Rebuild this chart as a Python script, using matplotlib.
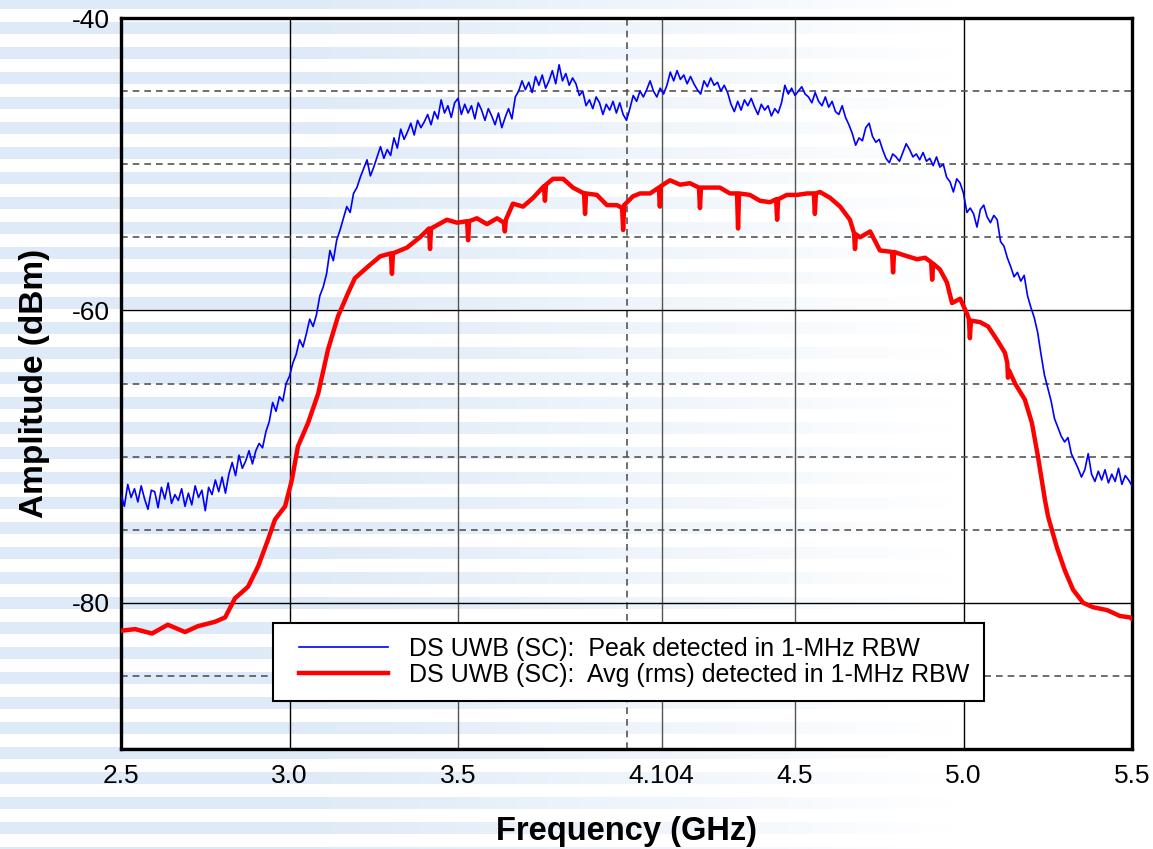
import numpy as np
import matplotlib
matplotlib.use("Agg")
import matplotlib.pyplot as plt
from matplotlib.legend_handler import HandlerLine2D

plt.rcParams['font.family'] = ['Liberation Sans', 'DejaVu Sans']
plt.rcParams['axes.unicode_minus'] = False

# peak detected trace, one reading every 10 MHz from 2.5 to 5.5 GHz
peak_db = [
    -72.6, -73.4, -71.9, -72.8, -72.2, -73.1, -72.0, -72.9, -73.6, -72.3,
    -72.4, -73.5, -72.1, -72.9, -71.8, -73.2, -72.6, -73.0, -72.2, -73.4,
    -72.5, -73.3, -72.0, -72.8, -72.3, -73.7, -72.1, -72.6, -71.6, -72.4,
    -71.4, -72.5, -71.2, -70.4, -71.3, -69.9, -70.8, -70.3, -69.6, -70.5,
    -69.6, -69.1, -69.4, -68.3, -67.6, -66.3, -66.9, -65.9, -66.2, -65.0,
    -64.5, -63.6, -63.0, -62.0, -62.5, -61.6, -60.6, -61.1, -60.3, -59.0,
    -58.4, -57.5, -55.9, -56.6, -55.2, -54.5, -53.7, -52.9, -53.3, -52.0,
    -51.6, -50.9, -50.3, -49.7, -50.8, -50.2, -49.5, -48.8, -49.6, -49.0,
    -49.4, -48.2, -48.9, -47.6, -48.3, -47.8, -47.2, -48.0, -47.0, -47.5,
    -47.1, -46.6, -47.3, -46.4, -46.9, -45.6, -46.5, -46.0, -46.8, -45.8,
    -45.5, -46.6, -45.9, -46.5, -46.0, -46.9, -45.8, -46.3, -47.0, -46.2,
    -46.7, -47.3, -46.5, -47.5, -46.8, -46.2, -46.9, -45.4, -45.0, -44.3,
    -44.9, -44.4, -45.1, -44.0, -44.6, -43.9, -44.8, -44.3, -43.6, -44.5,
    -43.2, -44.3, -43.8, -44.6, -44.1, -44.5, -45.3, -45.0, -46.0, -45.6,
    -46.2, -45.4, -45.8, -46.6, -45.9, -46.3, -45.7, -46.5, -45.8, -46.6,
    -47.0, -46.2, -45.3, -45.7, -45.0, -45.4, -44.9, -44.3, -45.0, -45.4,
    -44.8, -45.2, -44.6, -43.7, -44.3, -43.6, -44.2, -43.9, -44.5, -44.0,
    -44.5, -44.9, -45.2, -44.3, -44.7, -44.1, -44.6, -44.4, -45.0, -44.6,
    -45.1, -45.9, -46.4, -45.7, -46.3, -45.6, -46.0, -45.5, -46.1, -46.6,
    -45.9, -46.3, -46.0, -46.7, -46.2, -46.5, -45.8, -44.6, -45.2, -44.8,
    -45.3, -45.0, -44.7, -45.2, -45.4, -45.8, -45.1, -45.7, -46.0, -45.4,
    -46.1, -45.7, -46.4, -46.6, -46.0, -46.8, -47.3, -47.9, -48.7, -48.2,
    -48.4, -47.5, -47.2, -48.1, -48.5, -48.3, -49.0, -49.6, -49.9, -49.3,
    -49.5, -49.8, -49.2, -48.6, -49.0, -49.5, -49.3, -49.7, -49.2, -49.8,
    -49.6, -50.1, -49.5, -50.2, -50.0, -50.9, -51.2, -51.9, -51.0, -51.3,
    -52.0, -53.3, -53.0, -53.4, -54.3, -53.1, -52.8, -53.6, -54.0, -53.5,
    -53.8, -55.3, -55.6, -56.4, -57.0, -57.7, -57.4, -58.0, -57.6, -59.0,
    -59.8, -60.5, -61.5, -63.0, -64.4, -65.3, -66.2, -67.4, -68.0, -68.6,
    -69.0, -68.7, -69.8, -70.3, -70.8, -71.4, -70.9, -69.8, -71.2, -71.7,
    -71.0, -71.6, -70.9, -71.8, -71.2, -71.7, -70.8, -71.9, -71.3, -71.6,
    -72.0,
]
peak_freq = np.linspace(2.5, 5.5, len(peak_db))

# average (rms) trace, read at uneven points (the narrow dips included)
avg_freq = [
    2.503, 2.542, 2.592, 2.639, 2.690, 2.728, 2.779, 2.809, 2.838, 2.877,
    2.907, 2.936, 2.957, 2.987, 3.007, 3.025, 3.055, 3.085, 3.114, 3.144,
    3.174, 3.194, 3.233, 3.269, 3.301, 3.304, 3.307, 3.349, 3.387, 3.414,
    3.417, 3.420, 3.467, 3.497, 3.527, 3.530, 3.533, 3.556, 3.586, 3.616,
    3.636, 3.639, 3.642, 3.663, 3.693, 3.723, 3.755, 3.758, 3.761, 3.782,
    3.812, 3.841, 3.874, 3.877, 3.880, 3.912, 3.942, 3.972, 3.987, 3.990,
    3.993, 4.019, 4.040, 4.070, 4.096, 4.099, 4.102, 4.129, 4.159, 4.188,
    4.215, 4.218, 4.221, 4.248, 4.277, 4.307, 4.328, 4.331, 4.334, 4.366,
    4.396, 4.426, 4.444, 4.447, 4.450, 4.476, 4.506, 4.536, 4.556, 4.559,
    4.562, 4.574, 4.604, 4.634, 4.663, 4.675, 4.678, 4.681, 4.693, 4.723,
    4.752, 4.788, 4.791, 4.794, 4.820, 4.862, 4.886, 4.904, 4.907, 4.910,
    4.930, 4.951, 4.966, 4.990, 5.010, 5.016, 5.019, 5.022, 5.049, 5.073,
    5.099, 5.123, 5.130, 5.132, 5.135, 5.153, 5.182, 5.203, 5.221, 5.242,
    5.251, 5.277, 5.301, 5.325, 5.355, 5.384, 5.426, 5.464, 5.494, 5.500,
]
avg_db = [
    -81.9, -81.8, -82.1, -81.5, -82.0, -81.6, -81.3, -81.0, -79.7, -78.9,
    -77.5, -75.7, -74.3, -73.4, -71.6, -69.3, -67.7, -65.7, -62.7, -60.4,
    -58.8, -57.8, -57.0, -56.3, -56.1, -57.5, -56.1, -55.7, -55.0, -54.4,
    -55.8, -54.4, -53.8, -54.0, -53.9, -55.2, -53.9, -53.7, -54.1, -53.7,
    -54.0, -54.6, -53.8, -52.7, -52.9, -52.3, -51.5, -52.5, -51.4, -51.0,
    -51.0, -51.6, -52.0, -53.4, -52.0, -52.1, -52.8, -52.8, -53.0, -54.5,
    -52.8, -52.2, -52.0, -52.0, -51.6, -52.9, -51.5, -51.1, -51.4, -51.3,
    -51.6, -53.0, -51.6, -51.6, -51.6, -52.0, -52.0, -54.4, -52.0, -52.1,
    -52.5, -52.6, -52.4, -53.8, -52.4, -52.1, -52.1, -52.0, -52.0, -53.4,
    -52.0, -51.9, -52.3, -52.9, -53.8, -54.7, -55.8, -54.8, -55.0, -54.6,
    -55.9, -56.0, -57.4, -56.0, -56.2, -56.5, -56.4, -56.7, -57.9, -56.8,
    -57.2, -58.1, -59.5, -59.2, -60.2, -60.6, -61.9, -60.7, -60.8, -61.1,
    -62.0, -62.9, -63.6, -64.6, -64.1, -65.0, -66.1, -67.7, -70.0, -73.0,
    -74.1, -76.2, -77.8, -79.1, -80.0, -80.3, -80.5, -80.9, -81.0, -81.1,
]

x_ticks = [2.5, 3.0, 3.5, 4.104, 4.5, 5.0, 5.5]
x_labels = ['2.5', '3.0', '3.5', '4.104', '4.5', '5.0', '5.5']
y_ticks = [-40, -60, -80]
y_minor = [-45, -50, -55, -65, -70, -75, -85]

peak_label = 'DS UWB (SC):  Peak detected in 1-MHz RBW'
avg_label = 'DS UWB (SC):  Avg (rms) detected in 1-MHz RBW'

W, H = 1153, 849
fig = plt.figure(figsize=(W / 100, H / 100), dpi=100)

# striped light blue backdrop that fades out to the right
rows = np.arange(H)
band = ((rows + 3) % 25) < 12
fade = np.clip((950 - np.arange(W)) / 650.0, 0, 1)
bg = np.ones((H, W, 3))
shade = np.array([222, 234, 247]) / 255.0
mix = (band[:, None] * fade[None, :])[..., None]
bg = bg * (1 - mix) + shade[None, None, :] * mix

bg_ax = fig.add_axes([0, 0, 1, 1], zorder=-1)
bg_ax.imshow(bg, aspect='auto', interpolation='nearest')
bg_ax.axis('off')

ax = fig.add_axes([121 / W, 1 - 749 / H, 1011 / W, 731 / H], zorder=1)
ax.set_facecolor('none')

ax.plot(peak_freq, peak_db, color='#0000ff', lw=1.2, label=peak_label, zorder=3)
ax.plot(avg_freq, avg_db, color='#ff0000', lw=3.2, label=avg_label, zorder=4)

ax.set_xlim(2.5, 5.5)
ax.set_ylim(-90, -40)
ax.set_xticks(x_ticks)
ax.set_xticklabels(x_labels)
ax.set_xticks([4.0], minor=True)
ax.set_yticks(y_ticks)
ax.set_yticks(y_minor, minor=True)
ax.tick_params(which='both', length=0, labelsize=19)
ax.tick_params(axis='x', pad=11)
ax.tick_params(axis='y', pad=8)

ax.grid(which='major', color='#555555', lw=1.0, ls='-', zorder=1)
ax.grid(which='minor', color='#555555', lw=1.2, ls=(0, (4, 3)), zorder=1)
# 3.0 and 5.0 GHz lines are drawn darker in the original
for val, gl in zip(x_ticks, ax.get_xgridlines()):
    if val in (3.0, 5.0):
        gl.set_color('black')
for gl in ax.get_ygridlines():
    gl.set_color('black')

for s in ax.spines.values():
    s.set_linewidth(2.4)
    s.set_color('black')

ax.set_xlabel('Frequency (GHz)', fontsize=23.5, fontweight='bold', labelpad=20)
ax.set_ylabel('Amplitude (dBm)', fontsize=24, fontweight='bold', labelpad=16)

hmap = {l: HandlerLine2D(marker_pad=0.52, numpoints=2) for l in ax.get_lines()}
leg = ax.legend(loc='lower left', bbox_to_anchor=(0.150, 0.066), fontsize=18,
                frameon=True, fancybox=False, framealpha=1, edgecolor='black',
                handlelength=4.6, handletextpad=0.32, labelspacing=0.1,
                borderpad=0.55, borderaxespad=0, handler_map=hmap)
leg.get_frame().set_linewidth(1.5)
leg.set_zorder(5)

fig.savefig('out.png', dpi=100)
